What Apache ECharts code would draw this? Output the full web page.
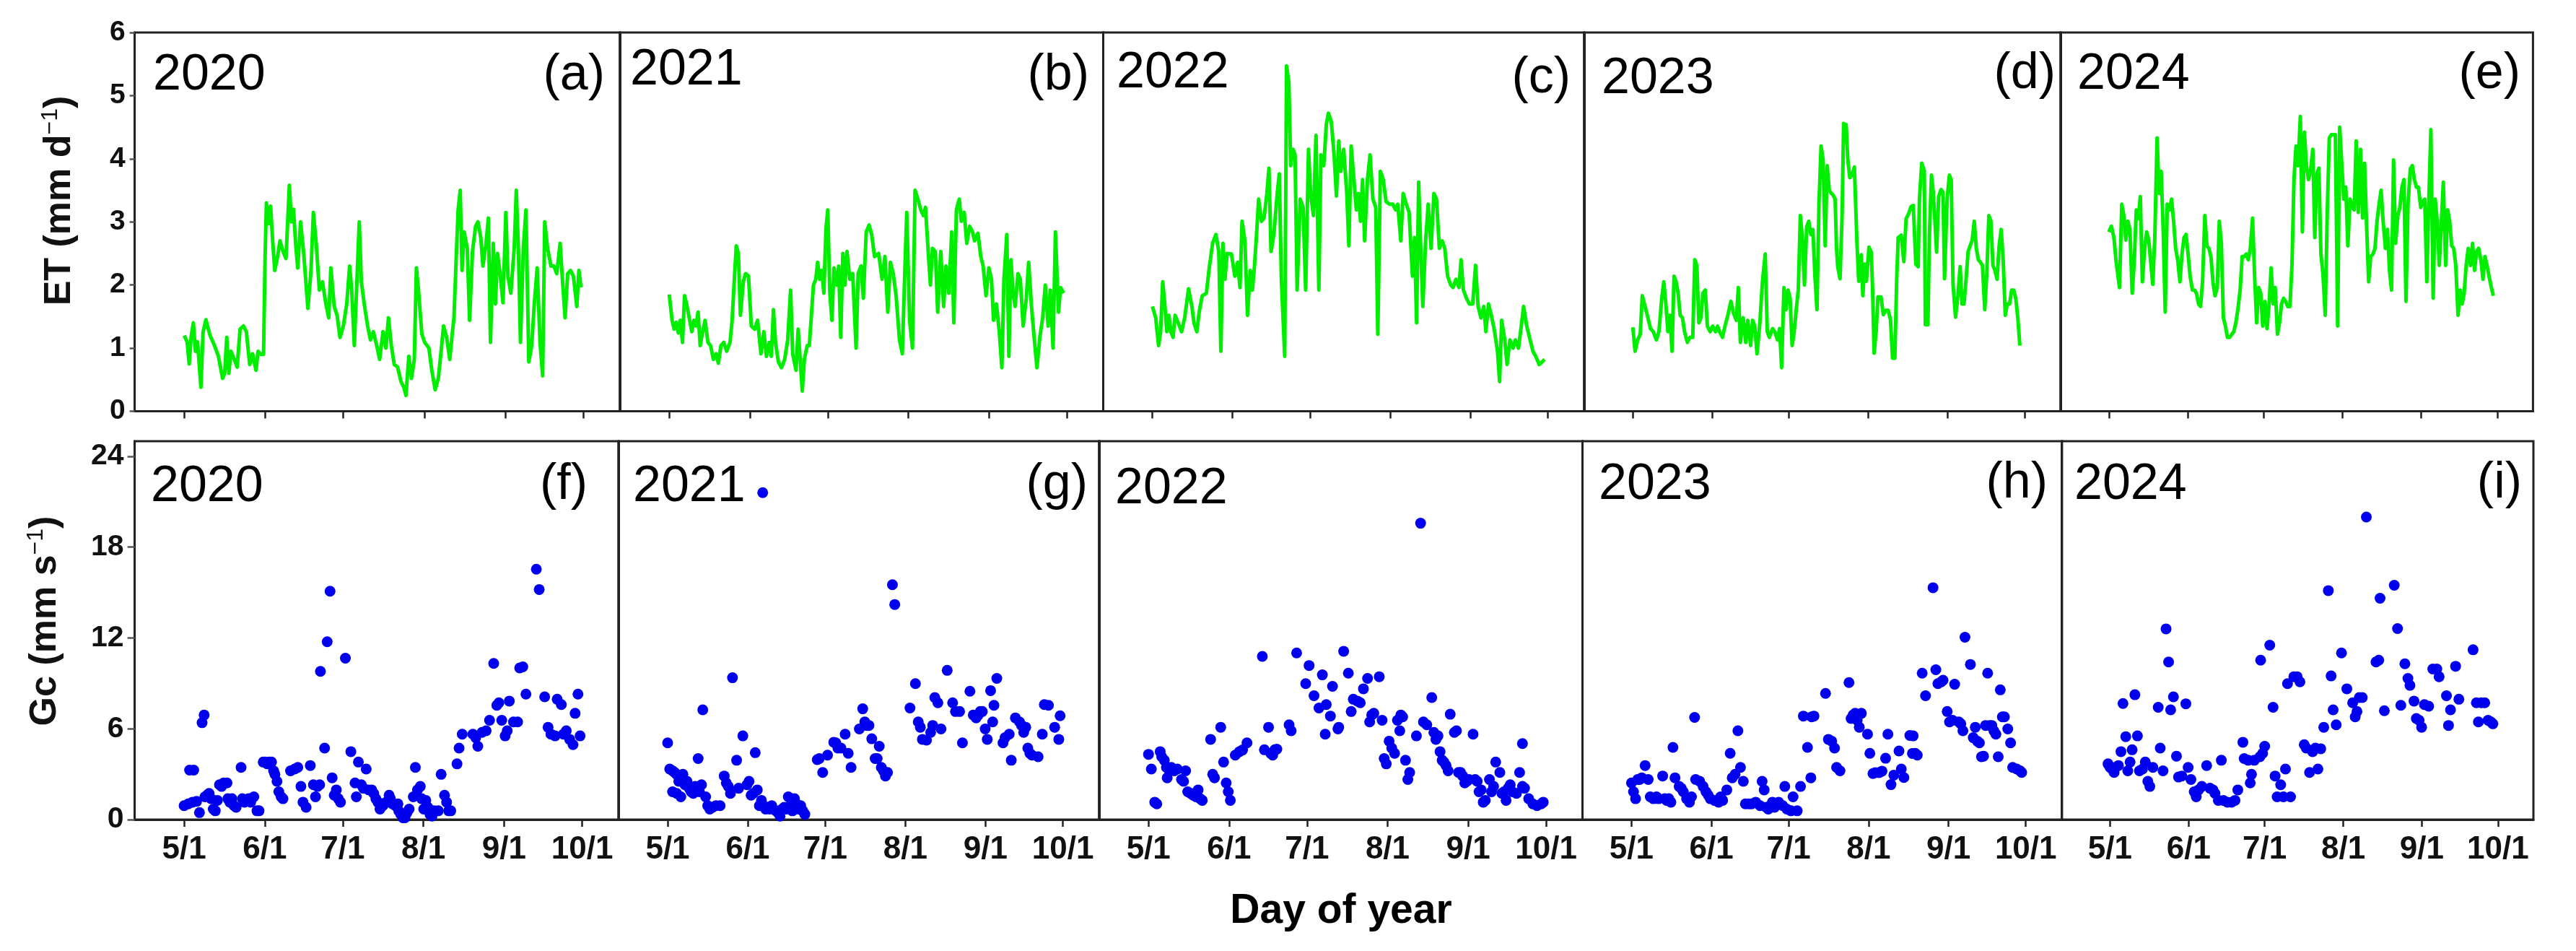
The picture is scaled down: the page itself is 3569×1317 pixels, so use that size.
<!DOCTYPE html>
<html>
<head>
<meta charset="utf-8">
<script src="https://cdn.jsdelivr.net/npm/echarts@6/dist/echarts.min.js"></script>
<style>
html, body { margin: 0; padding: 0; background: #fff; }
#chart { width: 3569px; height: 1317px; }
</style>
</head>
<body>
<div id="chart"></div>
<script>
// x values are days after 5/1 of each year
var years = [2020, 2021, 2022, 2023, 2024];
var tickDays = [0, 31, 61, 92, 123, 153];
var tickNames = ['5/1', '6/1', '7/1', '8/1', '9/1', '10/1'];
var etTicks = [0, 1, 2, 3, 4, 5, 6];
var gcTicks = [0, 6, 12, 18, 24];
var topLetters = ['(a)', '(b)', '(c)', '(d)', '(e)'];
var bottomLetters = ['(f)', '(g)', '', '(h)', '(i)'];

// daily ET, mm d-1
var et2020 = [[0,1.2],[1.1,1.1],[1.9,0.75],[2.7,1.2],[3.5,1.4],[4.3,0.95],[5.1,1.1],[6.4,0.38],[7.2,1.25],[8.3,1.45],[9.9,1.2],[11.5,1.05],[13.1,0.87],[14.7,0.52],[15.5,0.6],[16.3,1.17],[17.1,0.6],[17.9,0.95],[19.2,0.82],[20.3,0.7],[21.4,1.3],[22.7,1.35],[23.8,1.26],[25.1,0.74],[26.2,0.91],[27.5,0.65],[28.3,0.95],[29.4,0.9],[30.4,0.9],[31,2.45],[31.5,3.3],[32.3,2.97],[33.1,3.25],[33.9,2.7],[34.7,2.23],[35.8,2.45],[36.7,2.7],[37.9,2.53],[39,2.42],[40.3,3.58],[41.1,3.0],[41.9,3.2],[42.7,2.66],[43.5,2.27],[44.6,3.0],[45.8,2.5],[47.4,1.63],[48.6,2.23],[49.5,3.15],[50.6,2.66],[51.8,1.92],[53,2.05],[54.3,1.7],[55.4,1.48],[56.2,2.27],[57.5,1.66],[58.6,1.52],[59.7,1.17],[61,1.35],[62.3,1.7],[63.4,2.3],[64.2,1.92],[65.2,1.04],[66.1,1.96],[67.1,3.0],[67.9,2.05],[69,1.7],[70.3,1.35],[71.4,1.13],[72.5,1.26],[73.8,1.04],[74.9,0.82],[76.2,1.26],[77.3,1.0],[78.3,1.48],[79.4,1.04],[80.5,0.74],[81.8,0.7],[83.1,0.47],[84.2,0.38],[85,0.25],[86.1,0.87],[87.1,0.52],[88.2,0.82],[89,2.27],[89.8,1.92],[91.1,1.22],[92.2,1.09],[93.8,1.0],[94.9,0.65],[96.2,0.34],[97.4,0.52],[98.6,1.0],[99.4,1.35],[100.6,1.17],[101.8,0.82],[102.6,1.17],[103.4,1.48],[104.2,2.36],[105,3.19],[105.8,3.5],[106.5,2.23],[107.3,2.84],[108.5,2.58],[109.4,1.44],[110.5,2.53],[111.7,2.93],[112.6,3.0],[113.7,2.75],[114.5,2.3],[115.7,2.66],[116.6,3.06],[117.4,1.09],[118.5,2.66],[119.3,1.7],[120.1,2.5],[121.2,2.14],[122.2,1.72],[123.3,3.15],[124.1,2.14],[125.2,1.87],[126.5,2.58],[127.3,3.5],[128.1,2.58],[128.9,1.09],[130,2.58],[131,3.19],[132.1,0.78],[133.2,1.04],[134.2,1.7],[135.3,2.27],[136.4,1.09],[137.4,0.56],[138.2,3.0],[139.3,2.58],[140.6,2.3],[141.7,2.3],[142.8,2.18],[144.1,2.66],[144.9,2.14],[146,1.48],[147,2.18],[148.1,2.23],[149.2,2.14],[150.5,1.66],[151.3,2.23],[152.1,1.96]];
var et2021 = [[0,1.85],[1.1,1.44],[1.9,1.3],[2.7,1.41],[3.5,1.24],[4.3,1.44],[5.1,1.09],[5.9,1.83],[6.7,1.7],[7.5,1.52],[8.7,1.26],[9.5,1.44],[10.3,1.35],[11.1,1.57],[11.9,1.04],[12.7,1.22],[13.8,1.44],[14.9,1.09],[15.9,1.04],[17,0.82],[18.1,0.91],[18.9,0.76],[19.9,1.04],[21,1.09],[22.1,0.95],[23.4,1.09],[24.2,1.44],[25,2.05],[25.8,2.62],[26.6,2.5],[27.4,1.52],[28.5,2.05],[29.4,2.18],[30.5,2.14],[31.6,1.35],[32.9,1.3],[34,1.44],[35.3,0.91],[36.4,1.26],[37.4,0.87],[38.5,1.09],[39.3,0.87],[40.1,1.61],[40.9,1.09],[42,0.78],[43.2,0.69],[44.4,0.82],[45.6,1.13],[46.7,1.92],[47.5,0.91],[48.8,0.65],[49.6,1.3],[50.4,0.82],[51.2,0.32],[52,0.82],[53.1,1.04],[53.9,1.04],[54.7,1.52],[55.5,2.0],[56.4,2.09],[57.1,2.36],[57.9,2.09],[58.7,2.23],[59.5,1.87],[60.3,2.88],[61,3.19],[61.8,1.87],[62.6,1.44],[63.4,2.27],[64.4,2.0],[65.2,2.3],[66,1.17],[66.8,2.5],[67.6,2.0],[68.4,2.53],[69.5,2.09],[70.6,2.18],[71.9,1.0],[72.7,2.18],[73.8,2.3],[74.7,1.79],[75.8,2.84],[76.9,2.95],[77.9,2.8],[79,2.45],[80.6,2.5],[81.9,2.09],[83,2.45],[84.1,1.57],[85.1,2.36],[86.2,2.18],[87.3,1.83],[88.6,1.13],[89.7,0.91],[90.6,2.14],[91.4,3.15],[92.5,1.44],[93.6,1.0],[94.6,3.5],[95.7,3.36],[96.8,3.19],[97.8,3.1],[98.6,3.23],[99.7,2.5],[100.5,2.0],[101.3,2.58],[102.4,2.53],[103.3,1.57],[104.5,2.53],[105.6,1.66],[106.5,2.3],[107.6,1.87],[108.7,2.84],[109.5,1.4],[110.5,3.19],[111.6,3.36],[112.4,3.01],[113.5,3.15],[114.5,2.66],[115.6,2.93],[116.7,2.84],[117.5,2.7],[118.8,2.82],[119.9,2.45],[120.8,2.3],[121.9,1.83],[123,2.27],[124,2.09],[124.8,1.44],[125.9,1.7],[127,1.26],[128,0.69],[128.8,2.09],[129.9,2.8],[130.7,0.87],[131.5,2.4],[132.3,1.87],[133.1,1.66],[134.2,2.18],[135.1,2.09],[136.2,1.35],[137.4,1.79],[138.3,2.36],[139.4,1.66],[140.5,1.13],[141.5,0.69],[142.6,1.17],[143.7,1.48],[144.7,2.0],[145.8,1.35],[146.6,1.92],[147.7,1.0],[148.6,2.84],[149.8,1.57],[150.6,1.96],[151.8,1.87]];
var et2022 = [[0,1.66],[1.3,1.48],[2.4,1.04],[3.2,1.26],[4,2.05],[4.8,1.7],[5.6,1.26],[6.4,1.52],[7.2,1.26],[8,1.17],[8.8,1.52],[10,1.4],[11.3,1.26],[12.5,1.48],[14,1.94],[15.3,1.66],[16.1,1.4],[17.2,1.26],[18.1,1.57],[19.3,1.83],[20.9,1.87],[22,2.27],[23.3,2.66],[24.6,2.8],[25.7,2.53],[26.5,0.95],[27.3,2.66],[28.1,2.09],[28.9,2.5],[30.6,2.49],[31.9,2.14],[33,2.36],[33.9,1.96],[34.7,3.01],[35.8,2.7],[36.8,1.52],[37.9,2.23],[38.7,1.92],[39.5,2.3],[40.3,2.8],[41.1,3.36],[42.2,3.01],[43.2,3.06],[44.3,3.45],[45.1,3.85],[45.9,2.53],[47,2.8],[48.3,3.45],[49.1,3.76],[49.9,2.09],[51.2,0.87],[51.9,5.47],[52.8,5.21],[53.5,3.89],[54.4,4.15],[55.2,4.06],[56,1.92],[57.2,3.36],[58.3,3.23],[59.3,1.92],[60.4,4.15],[61.2,3.45],[62.3,3.1],[63.3,4.37],[64.4,1.92],[65.2,4.06],[66.3,3.89],[67.3,4.55],[68.1,4.72],[69.2,4.59],[70.3,4.06],[71.2,3.41],[72.1,4.28],[72.9,3.8],[74,4.15],[75.2,3.45],[76,2.62],[76.9,4.2],[77.7,3.8],[78.9,3.19],[79.7,3.45],[80.5,3.01],[81.3,3.67],[82.1,2.7],[83.2,3.67],[84.2,4.06],[85.3,3.36],[86.4,3.23],[87.2,1.22],[88.2,3.8],[89.3,3.67],[90.4,3.32],[91.7,3.28],[93,3.28],[94.1,3.19],[94.9,3.28],[96.1,2.7],[97,3.45],[98.2,3.28],[99.3,3.15],[100.6,2.14],[101.4,2.75],[102.2,1.4],[103,3.63],[103.8,2.58],[104.6,1.66],[105.7,2.7],[106.7,3.28],[107.8,2.58],[108.9,3.45],[109.9,3.36],[111,2.58],[112.1,2.7],[113.1,2.58],[114.2,2.14],[115.4,2.0],[116.3,1.96],[117.4,2.09],[118.6,1.96],[119.4,2.4],[120.3,1.92],[121.5,1.79],[122.6,1.7],[123.9,1.7],[125,2.31],[126,1.66],[127.1,1.48],[128.2,1.66],[129,1.26],[130,1.7],[131.1,1.52],[132.2,1.3],[133.5,0.95],[134.3,0.47],[135.1,1.44],[136.3,1.13],[137.2,0.74],[138.3,1.13],[139.5,1.0],[140.4,1.13],[141.6,1.0],[142.7,1.35],[143.6,1.66],[144.8,1.35],[146.1,1.13],[147.2,0.95],[148.3,0.87],[149.6,0.74],[150.7,0.78],[151.7,0.82]];
var et2023 = [[0,1.33],[0.9,0.95],[1.9,1.13],[2.9,1.22],[3.7,1.83],[4.8,1.66],[5.9,1.48],[6.9,1.31],[8,1.26],[9.2,1.13],[10.2,1.26],[11.3,1.79],[12.1,2.05],[12.9,1.7],[13.7,1.26],[14.5,1.52],[15.3,0.95],[16.1,2.14],[16.9,2.05],[17.7,1.87],[18.5,1.52],[19.4,1.48],[20.2,1.26],[21.3,1.09],[22.3,1.17],[23.4,1.17],[24.2,2.4],[25,2.31],[25.8,1.4],[26.6,1.48],[27.4,1.87],[28.3,1.92],[29.1,1.35],[30.2,1.26],[31.2,1.35],[32.3,1.26],[33.1,1.35],[33.9,1.26],[35,1.17],[36,1.35],[37.1,1.52],[38.3,1.74],[39.2,1.57],[40.4,1.44],[41.2,1.96],[42,1.09],[43.1,1.48],[44.1,1.09],[44.9,1.44],[46,1.04],[46.8,1.44],[47.6,1.35],[48.5,0.91],[49.6,1.4],[50.6,2.05],[51.7,2.49],[52.5,1.26],[53.3,1.17],[54.6,1.31],[55.4,1.26],[56.5,1.13],[57.3,1.31],[58.1,0.69],[59,1.96],[59.8,1.61],[60.6,1.92],[61.4,1.79],[62.2,1.04],[63,1.26],[63.8,1.61],[64.6,1.92],[65.4,3.1],[66.2,2.75],[67,2.0],[67.9,2.93],[68.7,3.01],[69.5,2.8],[70.3,2.88],[71.1,2.14],[71.9,1.61],[72.7,3.32],[73.5,4.2],[74.3,3.98],[75.1,2.62],[75.9,3.89],[76.7,3.5],[77.5,3.45],[78.1,3.43],[79,3.36],[79.5,2.6],[80,2.29],[80.9,2.1],[81.7,3.09],[82.3,4.56],[83.3,4.54],[83.9,4.0],[84.7,3.7],[85.6,3.74],[86.5,3.87],[87,3.28],[87.5,2.67],[88.2,2.06],[89.2,2.48],[89.8,1.83],[90.5,2.33],[91.2,2.06],[92.2,2.6],[93.1,2.52],[93.6,1.95],[94.2,0.92],[95,1.26],[95.7,1.81],[96.9,1.81],[97.8,1.53],[98.7,1.6],[99.7,1.6],[100.6,1.45],[101.4,0.84],[102.3,0.84],[103,2.06],[103.6,2.75],[104.8,2.79],[105.8,2.37],[106.7,3.05],[107.7,3.13],[108.6,3.24],[109.5,3.26],[110.5,2.33],[111.4,2.29],[111.9,3.36],[112.8,3.93],[113.8,3.81],[114.2,1.37],[115.2,1.37],[115.8,2.79],[116.6,3.74],[117.3,3.47],[118,2.98],[118.6,2.52],[119.4,3.4],[120.3,3.51],[121.1,3.47],[121.7,2.1],[122.7,3.36],[123.6,3.74],[124.3,3.66],[125,2.02],[126,1.49],[126.9,1.83],[127.8,2.29],[128.5,1.7],[129.3,1.7],[130.1,2.09],[130.9,2.53],[131.7,2.62],[132.5,2.71],[133.3,3.01],[134.1,2.58],[134.9,2.4],[135.7,2.36],[136.5,2.31],[137.4,1.61],[138.2,2.18],[139,3.1],[139.8,3.01],[140.6,2.31],[141.4,2.23],[142.2,2.09],[143,2.62],[143.8,2.88],[144.6,2.4],[145.4,1.52],[146.2,1.7],[147.1,1.7],[147.9,1.92],[148.7,1.92],[149.5,1.79],[150.3,1.48],[151.1,1.04]];
var et2024 = [[0,2.84],[1,2.93],[2,2.75],[2.9,2.36],[4.2,1.96],[5.1,3.28],[5.9,3.1],[6.7,2.71],[7.5,3.01],[8.3,2.88],[9.2,1.87],[10,2.36],[10.8,3.19],[11.6,3.05],[12.4,3.4],[13.2,2.05],[14.1,2.58],[14.9,2.84],[15.7,2.71],[16.5,2.36],[17.3,2.01],[18.1,2.75],[19,4.33],[19.8,3.45],[20.6,3.8],[21.4,2.88],[22.2,1.57],[23,3.28],[23.9,3.19],[24.7,3.36],[25.5,3.01],[26.3,2.58],[27.1,2.4],[28,2.05],[28.8,2.49],[29.6,2.75],[30.4,2.8],[31.2,2.49],[32,2.14],[32.9,1.92],[33.7,1.92],[34.5,1.87],[35.3,1.7],[36.1,1.66],[36.9,2.05],[37.8,3.1],[38.6,2.62],[39.4,2.58],[40.2,2.45],[41,2.05],[41.8,1.83],[42.7,1.96],[43.5,3.01],[44.3,2.66],[45.1,1.48],[45.9,1.35],[46.7,1.17],[47.6,1.17],[48.4,1.22],[49.2,1.26],[50,1.4],[50.8,1.61],[51.7,1.92],[52.5,2.45],[53.3,2.45],[54.1,2.49],[54.9,2.4],[55.7,2.58],[56.6,3.06],[57.4,2.14],[58.2,1.4],[59,1.96],[59.8,1.87],[60.6,1.35],[61.5,1.74],[62.3,1.31],[63.1,1.7],[63.9,2.27],[64.7,1.7],[65.5,1.96],[66.4,1.22],[67.2,1.4],[68,1.7],[68.8,1.79],[69.6,1.74],[70.4,1.66],[71.3,1.66],[72.1,2.31],[72.9,3.67],[73.7,4.2],[74.5,3.89],[75.4,4.67],[76.2,2.84],[77,4.42],[77.8,3.89],[78.6,3.67],[79.4,3.8],[80.3,4.15],[81.1,2.75],[81.9,3.76],[82.7,3.85],[83.5,2.49],[84.3,2.18],[85.2,1.52],[86,3.15],[86.8,4.33],[87.6,4.38],[88.4,4.38],[89.2,4.38],[90.1,1.35],[90.9,4.5],[91.7,3.93],[92.5,3.36],[93.3,3.55],[94.1,2.62],[95,3.36],[95.8,3.23],[96.6,3.19],[97.4,4.28],[98.2,3.15],[99.1,4.15],[99.9,3.06],[100.7,3.93],[101.5,2.93],[102.3,2.05],[103.1,2.45],[104,2.49],[104.8,2.58],[105.6,3.01],[106.4,3.28],[107.2,3.5],[108,3.01],[108.9,2.58],[109.7,2.88],[110.5,2.23],[111.3,1.92],[112.1,3.98],[112.9,2.66],[113.8,3.1],[114.6,3.23],[115.4,3.55],[116.2,3.67],[117,1.74],[117.8,3.28],[118.7,3.84],[119.5,3.89],[120.3,3.67],[121.1,3.55],[121.9,3.55],[122.8,3.23],[123.6,3.32],[124.4,3.36],[125.2,2.05],[126,3.36],[126.8,4.46],[127.7,1.79],[128.5,3.36],[129.3,3.01],[130.1,2.31],[130.9,2.97],[131.7,3.63],[132.6,2.31],[133.4,3.19],[134.2,3.01],[135,2.62],[135.8,2.58],[136.6,2.31],[137.5,1.52],[138.3,1.92],[139.1,1.7],[139.9,1.87],[140.7,2.31],[141.5,2.58],[142.4,2.31],[143.2,2.66],[144,2.23],[144.8,2.53],[145.6,2.58],[146.5,2.4],[147.3,2.09],[148.1,2.45],[148.9,2.31],[149.7,2.14],[150.6,1.96],[151.4,1.83]];

// canopy conductance Gc, mm s-1
var gc2020 = [[0,0.92],[1.6,1.04],[2.1,3.27],[3.7,3.27],[3.2,1.15],[4.8,1.2],[5.9,0.46],[6.9,6.4],[7.7,6.91],[8,1.5],[8.8,1.61],[9.6,1.73],[10.4,1.38],[11.2,0.69],[12,0.58],[12.8,1.27],[13.6,2.3],[14.4,2.19],[15.2,2.42],[16.5,2.42],[16.8,1.38],[17.6,1.15],[18.4,1.38],[19.2,0.92],[20,0.81],[21.9,3.45],[22.4,1.38],[23.2,1.15],[24.8,1.38],[25.6,1.15],[26.8,1.5],[28,0.58],[28.8,0.58],[30.4,3.8],[31.2,3.8],[32,3.68],[32.8,3.8],[33.6,3.8],[34.4,3.22],[34.9,2.99],[35.7,2.53],[36.4,1.84],[37.3,1.5],[38,1.38],[40.9,3.22],[42.5,3.34],[43.7,3.45],[44.9,2.19],[45.7,1.15],[46.9,0.81],[48.5,3.57],[49.7,2.3],[50.5,1.5],[51.3,2.19],[52.1,2.3],[52.4,9.79],[54,4.72],[55,11.75],[56.1,15.09],[56.9,2.76],[57.7,1.61],[58.5,1.96],[59.3,1.38],[60.1,1.15],[62,10.66],[64.1,4.49],[65.7,2.42],[66.2,1.5],[67,3.8],[68.1,2.3],[68.9,2.07],[70,3.34],[71,1.96],[72.1,1.96],[72.9,1.73],[73.7,1.38],[74.5,1.15],[75.3,0.69],[76.4,0.92],[77.7,1.15],[78.8,1.61],[79.3,1.38],[80.1,1.04],[81.2,0.92],[82.2,1.04],[82.5,0.58],[83.3,0.35],[84.1,0.12],[84.9,0.12],[85.7,0.46],[86.5,0.69],[88.1,1.5],[88.9,3.45],[89.7,1.96],[90.8,2.19],[91.3,1.38],[92.1,0.69],[92.9,1.27],[93.7,0.81],[94.5,0.35],[95.3,0.23],[96.1,0.58],[97.7,0.58],[98.8,2.99],[100.1,1.61],[100.9,1.15],[101.7,0.58],[102.5,0.58],[104.9,3.68],[105.7,4.72],[106.9,5.64],[111,5.64],[112.1,5.41],[112.9,4.84],[114.5,5.76],[116.1,5.87],[117.4,6.56],[119,10.32],[120.2,7.55],[121,7.72],[122.1,6.56],[123.4,5.53],[124.2,5.87],[125,7.83],[126.6,6.45],[128.2,6.45],[129,10.02],[130.2,10.09],[131.4,8.29],[135.4,16.54],[136.5,15.2],[138.6,8.11],[139.9,6.1],[141,5.64],[142.6,5.53],[143.4,7.95],[145,7.6],[145.8,5.64],[146.9,5.87],[148.2,5.3],[149.5,4.95],[150.3,7.02],[151.4,8.29],[152.2,5.53]];
var gc2021 = [[0,5.07],[0.8,3.34],[1.9,3.22],[2.7,3.11],[3.5,2.99],[4.3,2.53],[5.1,2.76],[5.9,2.99],[1.9,1.84],[3.5,1.73],[5.1,1.5],[6.7,2.3],[7.5,2.53],[8.3,2.07],[9.1,1.84],[9.9,1.73],[10.7,2.19],[11.8,4.03],[12.3,1.84],[13.1,2.3],[13.6,7.25],[14.7,1.5],[15.5,0.92],[16.3,0.69],[17.4,0.81],[18.7,0.92],[20.3,0.92],[21.9,2.88],[22.7,2.42],[23.5,2.19],[24.3,1.73],[25.1,9.37],[26.7,3.92],[27.5,2.07],[29.1,5.53],[30.7,2.3],[31.5,2.53],[32.3,1.61],[33.1,1.73],[33.9,4.42],[34.7,1.96],[35.5,0.92],[36.3,1.27],[36.8,21.6],[37.1,0.92],[37.9,0.69],[38.7,0.81],[39.5,0.69],[40.3,0.92],[41.9,0.58],[42.7,0.46],[43.5,0.23],[44.3,0.69],[45.1,0.81],[45.9,0.69],[46.7,1.5],[47.5,0.92],[48.3,0.58],[49.1,1.38],[49.9,1.04],[50.7,0.69],[51.5,0.92],[52.3,0.58],[53.1,0.35],[57.9,3.96],[58.7,4.03],[60,3.11],[61.9,4.26],[64.3,5.11],[65.1,5.07],[65.9,4.72],[67.1,4.72],[68.7,5.64],[69.9,4.38],[71,3.45],[74.2,5.99],[75.5,7.32],[76.3,6.45],[77.1,6.22],[77.9,6.22],[79,5.34],[80.3,4.03],[81.1,4.03],[81.9,4.84],[82.7,3.45],[83.5,3.22],[84.3,2.88],[85.1,3.11],[87,15.52],[87.9,14.21],[93.8,7.37],[95.9,8.98],[97,6.45],[97.8,6.1],[98.6,5.3],[100.2,5.25],[101.8,5.76],[102.6,6.22],[103.4,8.06],[104.6,7.72],[105.8,5.99],[108.2,9.86],[110.3,7.72],[111.4,7.14],[113,7.14],[114.1,5.07],[117,8.48],[118.3,6.91],[119.4,6.72],[120.2,6.91],[121,7.14],[121.8,7.14],[122.9,5.99],[123.7,5.3],[125,8.52],[126.3,7.55],[125.8,6.45],[127.4,9.33],[129.8,5.07],[130.6,5.41],[132.2,5.64],[133,3.92],[134.6,6.72],[136.2,6.45],[137,6.22],[137.8,5.76],[138.6,6.1],[139.4,4.72],[140.2,4.38],[141,4.26],[143.4,4.15],[145,5.64],[145.8,7.6],[147.4,7.55],[149.8,6.1],[151.4,5.3],[151.9,6.86]];
var gc2022 = [[0,4.31],[1.1,3.34],[2.4,1.15],[3.2,1.04],[4.5,4.49],[5.1,4.15],[6.1,3.92],[6.9,3.45],[7.2,2.76],[8,3.22],[8.8,3.45],[9.9,3.22],[11.1,3.34],[12.7,2.65],[13.5,2.53],[14.3,3.22],[15.1,1.84],[16.2,1.73],[17.2,1.61],[18.3,1.5],[19.1,1.96],[19.9,1.38],[20.7,1.27],[23.9,5.3],[24.7,2.99],[25.4,2.76],[27.8,6.1],[28.9,3.8],[29.9,2.42],[30.7,1.84],[31.5,1.27],[33.4,4.26],[35,4.49],[36.2,4.6],[37.9,5.07],[43.8,10.78],[44.6,4.61],[46.2,6.1],[47,4.38],[47.8,4.26],[48.6,4.61],[49.4,4.65],[54.1,6.26],[54.9,5.87],[57,11.01],[60.5,8.98],[61.8,10.18],[63.7,8.18],[65.6,7.37],[66.9,9.56],[68.4,7.6],[68,5.64],[70,6.84],[70.8,8.8],[73.2,6.1],[72.9,5.99],[75.1,11.12],[76.9,9.67],[78,7.14],[78.8,7.95],[80.4,7.83],[81.5,7.72],[82.7,8.64],[84.3,9.33],[85.1,6.45],[85.9,6.91],[86.7,7.02],[88.8,9.44],[89.9,6.56],[90.7,4.03],[91.5,3.68],[92.6,5.18],[93.6,4.72],[94.7,4.38],[95.8,6.56],[96.7,5.87],[97.1,6.91],[97.8,6.79],[98.9,3.92],[99.8,2.65],[100.5,3.11],[103.1,5.53],[104.7,19.58],[105.8,6.45],[107.1,6.26],[109,8.06],[109.8,5.76],[110.6,5.3],[111.4,5.53],[112.2,4.49],[113,3.92],[113.7,3.8],[114.5,3.57],[115.3,3.22],[116.1,6.96],[117.7,5.76],[118.5,5.87],[119.3,3.11],[120.1,3.11],[120.9,2.88],[121.7,2.42],[122.5,2.53],[123.3,2.65],[124.9,5.64],[125.7,2.65],[126.5,2.53],[127.2,1.84],[128,1.96],[128.8,1.15],[129.6,1.27],[131.2,2.65],[132,1.84],[132.8,2.19],[133.6,3.8],[135.2,3.11],[136,1.73],[136.8,1.84],[137.6,1.27],[138.4,2.07],[139.2,2.3],[140,1.84],[141.6,1.73],[142.8,3.11],[143.9,5.02],[143.9,2.19],[144.7,2.07],[146.3,1.38],[147.9,1.04],[149.5,0.92],[151.1,1.04],[151.9,1.15]];
var gc2023 = [[0,2.42],[0.8,1.84],[1.6,1.38],[2.4,2.65],[3.2,2.65],[4,2.76],[5.3,3.57],[6.5,2.65],[7.3,1.5],[8.5,1.38],[9.7,1.5],[10.5,1.38],[12.1,2.88],[12.9,1.38],[13.7,1.27],[14.5,1.38],[15.3,1.15],[16.1,4.77],[16.9,2.76],[18.5,2.19],[19.3,2.07],[20.1,1.84],[21.4,1.38],[22.5,1.15],[23.3,1.5],[24.5,6.75],[24.9,2.65],[26.5,2.53],[27.8,2.19],[28.9,1.84],[29.8,1.61],[30.6,1.38],[32.2,1.27],[33.8,1.15],[34.6,1.5],[35.4,1.27],[37,1.96],[38.3,4.38],[39.1,2.76],[40.2,2.99],[41.3,5.87],[42.3,3.45],[43.4,2.53],[44.2,1.04],[45.5,1.04],[46.6,1.04],[48.2,1.15],[49.9,0.92],[50.7,2.53],[51.5,1.96],[52.3,0.81],[53.1,0.69],[53.9,0.92],[54.7,1.15],[55.5,0.81],[57.1,1.15],[58.7,0.92],[59.5,2.19],[60.3,0.69],[61.9,0.58],[62.7,1.5],[64.3,0.58],[65.6,2.19],[66.7,6.84],[68.3,4.77],[69.6,2.76],[69.9,6.79],[70.8,6.84],[75.3,8.34],[76.4,5.3],[77.7,5.18],[78.8,4.72],[79.6,3.45],[80.9,3.22],[84.4,9.05],[85.2,6.68],[86,6.91],[86.8,7.02],[87.6,6.56],[88.4,6.1],[89.2,7.02],[91.6,5.64],[92.5,4.38],[93.7,3.04],[94.6,3.1],[96.1,3.1],[97.2,3.2],[98.6,4.05],[99.5,5.64],[100.7,2.31],[101.8,2.94],[103.8,4.53],[104.7,3.34],[105.7,2.78],[108,5.56],[109,4.37],[109.3,5.53],[110.1,4.38],[110.9,4.26],[112.8,9.67],[114.1,8.18],[117,15.32],[118.1,9.9],[118.9,8.98],[120.2,9.1],[120.9,9.21],[122.5,7.14],[123.4,6.45],[124.6,6.56],[125.4,8.94],[127,6.45],[127.8,6.33],[128.6,5.87],[129.4,12.05],[131.5,10.25],[132.6,5.41],[133.4,6.1],[134.2,5.18],[135,5.07],[135.8,4.15],[136.6,4.19],[137.4,6.22],[138.2,9.67],[139,6.22],[139.8,6.22],[140.6,5.87],[141.4,5.64],[142.3,4.15],[143.1,8.57],[143.9,6.79],[144.7,6.79],[146,5.99],[147.1,5.07],[147.9,3.45],[149.5,3.34],[150.8,3.22],[151.4,3.11]];
var gc2024 = [[-0.8,3.68],[0,3.45],[0.8,3.34],[1.6,3.11],[2.1,3.45],[3.3,3.57],[4.3,4.49],[5.1,7.67],[6.2,5.48],[7,3.22],[7.9,3.8],[8.7,4.61],[9.8,8.25],[10.8,5.53],[11.6,3.22],[12.8,3.34],[13.9,3.8],[14.9,2.53],[15.7,2.19],[16.9,3.45],[19,7.42],[19.8,4.72],[20.9,3.22],[22.1,12.6],[23.1,10.41],[23.9,7.25],[25,8.11],[26.2,4.19],[27,2.81],[28.3,2.88],[29.9,7.65],[30.8,3.45],[31.9,2.65],[33.2,1.84],[34,1.5],[34.9,1.96],[36.2,2.19],[38.1,3.57],[39.4,2.07],[40.6,1.96],[41.4,1.73],[42.7,1.27],[43.9,3.92],[44.7,1.27],[46.3,1.15],[47.9,1.15],[49.3,1.27],[50.4,1.96],[52.4,5.11],[52.9,4.03],[54.5,3.92],[55.3,2.42],[55.8,2.99],[56.9,3.92],[59.1,4.15],[59.4,10.53],[60.2,4.38],[61,4.84],[63,11.52],[64.3,7.42],[65.1,2.88],[65.9,1.5],[67.3,2.3],[68.4,1.5],[69.2,3.34],[70,8.98],[71.2,1.5],[72.5,9.44],[73.8,9.44],[74.9,9.1],[76.6,4.95],[77.4,4.72],[78.7,3.11],[79.9,4.49],[81,4.72],[82,3.34],[83.1,4.68],[84.3,6.1],[86.1,15.13],[87.2,9.49],[88,7.25],[89.2,6.26],[91.3,11.01],[93.4,8.64],[95.7,7.72],[96.7,6.79],[97.4,7.14],[98.3,8.06],[99.5,8.06],[101.1,19.99],[104.9,10.41],[106,10.53],[106.5,14.62],[108.2,7.19],[112.1,15.48],[113.4,12.62],[114.7,7.55],[116.3,10.29],[117.5,9.33],[118.3,8.87],[119.9,7.83],[120.8,6.68],[121.9,6.56],[122.9,6.1],[124,7.6],[125.7,7.49],[127.3,9.95],[128.9,9.95],[129.8,9.44],[132.7,8.18],[133.5,6.22],[134.3,7.25],[136.3,10.13],[137.6,7.95],[143.2,11.22],[144.5,7.72],[145.3,6.45],[146.5,7.72],[147.8,7.72],[149.1,6.56],[150.2,6.45],[151,6.33]];

var etData = [et2020, et2021, et2022, et2023, et2024];
var gcData = [gc2020, gc2021, gc2022, gc2023, gc2024];

var FONT = '"Liberation Sans", Arial, Helvetica, sans-serif';
var rowTop = [45, 611];
var rowHeight = [524.5, 524];
var rowEdges = [
	[186.6, 858.8, 1528.5, 2194.8, 2854.9, 3509.4],
	[186.6, 857, 1522.8, 2192.5, 2856.7, 3510]
];
// [yearLeft, yearMiddle, letterRight, letterMiddle]
var labelPos = [
	[[212, 105, 838, 105], [873, 98, 1509, 105], [1547, 102, 2176, 109], [2219, 110, 2848, 103], [2878, 104, 3492, 103]],
	[[209, 675, 814, 672], [877, 675, 1507, 672], [1545, 678, 0, 0], [2215, 672, 2837, 670], [2874, 672, 3494, 670]]
];

var grids = [], xAxes = [], yAxes = [], series = [], graphics = [];

function textEl(x, y, txt, align, size, weight) {
	return {
		type: 'text', x: x, y: y, silent: true,
		style: {
			text: txt, fill: '#000', fontSize: size, fontWeight: weight, fontFamily: FONT,
			align: align, verticalAlign: 'middle', textAlign: align, textVerticalAlign: 'middle'
		}
	};
}

for (var r = 0; r < 2; r++) {
	for (var c = 0; c < 5; c++) {
		var i = r * 5 + c;
		var left = rowEdges[r][c], right = rowEdges[r][c + 1];
		grids.push({
			left: left, top: rowTop[r], width: right - left, height: rowHeight[r],
			show: true, borderColor: '#222', borderWidth: 3, backgroundColor: 'transparent',
			containLabel: false
		});
		xAxes.push({
			type: 'value', gridIndex: i, min: -19, max: 167,
			axisLine: { show: true, onZero: false, lineStyle: { color: '#222', width: 3 } },
			axisTick: { show: true, length: 10, customValues: tickDays, lineStyle: { color: '#222', width: 2.5 } },
			axisLabel: {
				show: r === 1, customValues: tickDays, margin: 20,
				fontSize: 44, fontWeight: 'bold', fontFamily: FONT, color: '#111',
				formatter: function (v) { return tickNames[tickDays.indexOf(v)]; }
			},
			splitLine: { show: false }
		});
		var yt = r === 0 ? etTicks : gcTicks;
		yAxes.push({
			type: 'value', gridIndex: i, min: 0, max: r === 0 ? 6 : 25,
			axisLine: { show: true, onZero: false, lineStyle: { color: '#222', width: 3 } },
			axisTick: { show: c === 0, length: r === 0 ? 7 : 10, customValues: yt, lineStyle: { color: '#555', width: 2.5 } },
			axisLabel: {
				show: c === 0, customValues: yt, margin: r === 0 ? 13 : 15,
				fontSize: r === 0 ? 39 : 41, fontWeight: 'bold', fontFamily: FONT, color: '#111'
			},
			splitLine: { show: false }
		});
		if (r === 0) {
			series.push({
				type: 'line', xAxisIndex: i, yAxisIndex: i, data: etData[c],
				showSymbol: false, symbol: 'none', lineStyle: { color: '#00ee00', width: 5, join: 'round' },
				silent: true
			});
		} else {
			series.push({
				type: 'scatter', xAxisIndex: i, yAxisIndex: i, data: gcData[c],
				symbol: 'circle', symbolSize: 15, itemStyle: { color: '#0000ee', opacity: 1 },
				silent: true
			});
		}
		var p = labelPos[r][c];
		graphics.push(textEl(p[0], p[1], String(years[c]), 'left', 70, 'normal'));
		var letter = r === 0 ? topLetters[c] : bottomLetters[c];
		if (letter) graphics.push(textEl(p[2], p[3], letter, 'right', 70, 'normal'));
	}
}

// axis titles
function axisTitle(x, y, main, unit, tail) {
	return {
		type: 'text', x: x, y: y, rotation: Math.PI / 2, silent: true,
		style: {
			text: '{a|' + main + '}{s|' + unit + '}{a|' + tail + '}',
			align: 'center', verticalAlign: 'middle', textAlign: 'center', textVerticalAlign: 'middle',
			rich: {
				a: { fontSize: 52, fontWeight: 'bold', fontFamily: FONT, fill: '#111', color: '#111', lineHeight: 58 },
				s: { fontSize: 32, fontWeight: 'normal', fontFamily: FONT, fill: '#111', color: '#111', verticalAlign: 'top', lineHeight: 58 }
			}
		}
	};
}
graphics.push(axisTitle(83, 278, 'ET (mm d', '\u22121', ')'));
graphics.push(axisTitle(63, 860, 'Gc (mm s', '\u22121', ')'));
graphics.push(textEl(1858, 1262, 'Day of year', 'center', 57, 'bold'));

var option = {
	animation: false,
	backgroundColor: '#fff',
	grid: grids,
	xAxis: xAxes,
	yAxis: yAxes,
	series: series,
	graphic: graphics
};

var myChart = echarts.init(document.getElementById('chart'));
myChart.setOption(option);
</script>
</body>
</html>
